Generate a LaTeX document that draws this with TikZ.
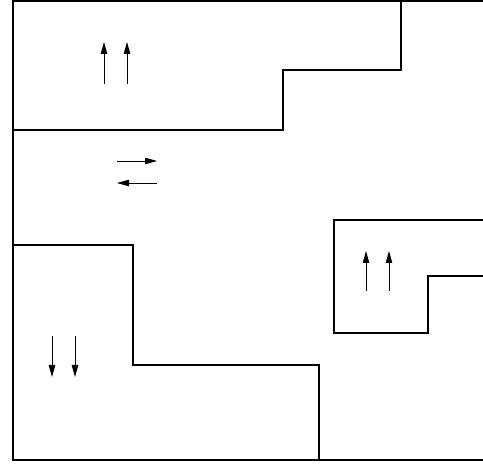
\documentclass[tikz,border=0pt]{standalone}
\usetikzlibrary{arrows.meta}
\begin{document}
\begin{tikzpicture}[x=1pt,y=-1pt,
  wall/.style={line width=1.3pt,line join=miter},
  spin/.style={line width=0.9pt,-{Triangle[length=12pt,width=6.5pt]}}]
\useasboundingbox (0,0) rectangle (483,468);
% outer frame (open on the right)
\draw[wall] (483,1) -- (13,1) -- (13,460) -- (483,460);
% upper domain
\draw[wall] (13,130) -- (283,130) -- (283,70) -- (401,70) -- (401,1);
% lower-left domain
\draw[wall] (13,245) -- (133,245) -- (133,365) -- (319,365) -- (319,460);
% right domain
\draw[wall] (483,220) -- (334,220) -- (334,333) -- (428,333) -- (428,276) -- (483,276);
% arrows
\draw[spin] (104,84) -- (104,42);
\draw[spin] (127,84) -- (127,42);
\draw[spin] (117,161) -- (157,161);
\draw[spin] (157,183) -- (117,183);
\draw[spin] (52,336) -- (52,377);
\draw[spin] (75,336) -- (75,377);
\draw[spin] (366,291) -- (366,251);
\draw[spin] (389,291) -- (389,251);
\end{tikzpicture}
\end{document}
